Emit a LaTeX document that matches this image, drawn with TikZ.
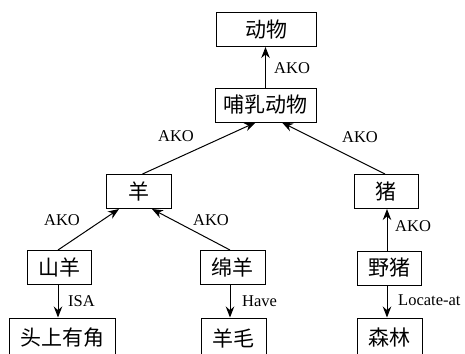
\documentclass[tikz,border=0pt]{standalone}
\usepackage{fontspec}
\setmainfont{Liberation Serif}
\newfontfamily\cjk{Noto Sans CJK SC}
\usetikzlibrary{arrows.meta}
\begin{document}
\begin{tikzpicture}[x=1pt,y=-1pt,
  box/.style={draw,line width=1pt,inner sep=0pt,minimum height=34pt,font=\cjk\fontsize{21}{21}\selectfont},
  lab/.style={inner sep=0pt,font=\fontsize{16.5}{16.5}\selectfont},
  arr/.style={line width=1pt,-{Stealth[length=11pt,width=8.5pt]}}]
\useasboundingbox (0,0) rectangle (465,353);
\node[box,minimum width=100pt] (animal) at (266,29.5) {动物};
\node[box,minimum width=101pt] (mammal) at (265.5,105) {哺乳动物};
\node[box,minimum width=65pt] (sheep) at (138.5,191.5) {羊};
\node[box,minimum width=64pt] (pig) at (386,191.5) {猪};
\node[box,minimum width=64pt] (goat) at (59,267.5) {山羊};
\node[box,minimum width=65pt] (msheep) at (232.5,267.5) {绵羊};
\node[box,minimum width=64pt] (boar) at (389,268) {野猪};
\node[box,minimum width=106pt,minimum height=40pt] (horn) at (62,338) {头上有角};
\node[box,minimum width=65pt,minimum height=40pt] (wool) at (233.5,338) {羊毛};
\node[box,minimum width=65pt,minimum height=40pt] (forest) at (389.5,338) {森林};
\draw[arr] (mammal.north) -- (mammal.north |- animal.south);
\draw[arr] ([xshift=4pt]sheep.north) -- ([xshift=-10pt]mammal.south);
\draw[arr] ([xshift=-1pt]pig.north) -- ([xshift=16.5pt]mammal.south);
\draw[arr] ([xshift=-1pt]goat.north) -- ([xshift=-19.5pt]sheep.south);
\draw[arr] ([xshift=-2.5pt]msheep.north) -- ([xshift=13.5pt]sheep.south);
\draw[arr] ([xshift=-2pt]boar.north) -- ([xshift=-2pt]boar.north |- pig.south);
\draw[arr] ([xshift=-1pt]goat.south) -- ([xshift=-1pt]goat.south |- horn.north);
\draw[arr] ([xshift=-2.5pt]msheep.south) -- ([xshift=-2.5pt]msheep.south |- wool.north);
\draw[arr] ([xshift=-2pt]boar.south) -- ([xshift=-2pt]boar.south |- forest.north);
\node[lab,anchor=west] (l1) at (274,68) {AKO};
\node[lab] (l2) at (176,136.5) {AKO};
\node[lab] (l3) at (360,137) {AKO};
\node[lab] (l4) at (62,220) {AKO};
\node[lab] (l5) at (211,220) {AKO};
\node[lab,anchor=west] (l6) at (395,226) {AKO};
\node[lab,anchor=west] (l7) at (68,301) {ISA};
\node[lab,anchor=west] (l8) at (242,301) {Have};
\node[lab,anchor=west] (l9) at (398,300) {Locate-at};
\end{tikzpicture}
\end{document}
